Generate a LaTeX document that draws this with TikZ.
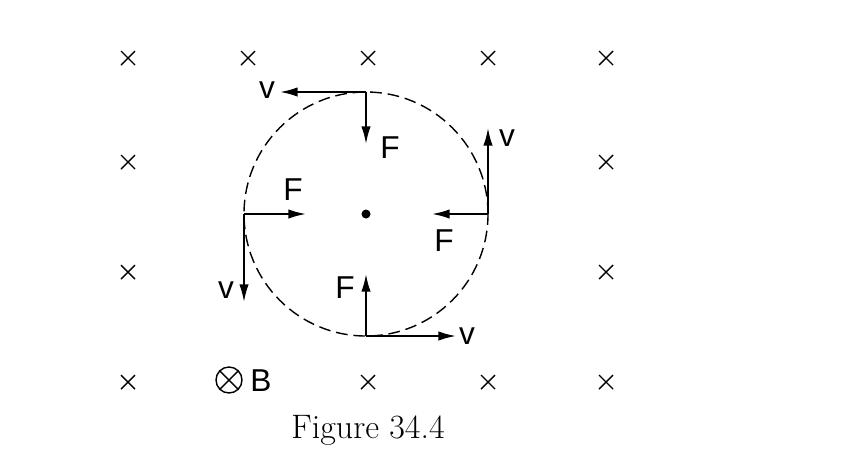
\documentclass[tikz,border=0pt]{standalone}
\usepackage{fontspec}
\newfontfamily\lab{Liberation Sans}
\usetikzlibrary{arrows.meta}
\begin{document}
\begin{tikzpicture}[x=0.03cm,y=-0.03cm,
  cross/.style={line width=1.2pt},
  vec/.style={line width=1.6pt,-{Latex[length=15pt,width=8pt]}},
  lbl/.style={font=\lab\fontsize{27}{32}\selectfont,inner sep=0pt}]
\useasboundingbox (0,0) rectangle (850,465);
\foreach \x/\y in {128/58,248/58,368/58,488/58,606/58,128/162,606/162,128/272,606/272,128/382,368/382,488/382,606/382}
  \draw[cross] (\x-7,\y-7) -- (\x+7,\y+7) (\x-7,\y+7) -- (\x+7,\y-7);
\node[circle,draw,line width=1.2pt,minimum size=244*0.03cm,inner sep=0pt,dash pattern=on 10pt off 5pt] (c) at (366,214) {};
\fill (366,214) circle (4.5);
\coordinate (T) at (366,92); \coordinate (R) at (488,214);
\coordinate (L) at (244,214); \coordinate (B) at (366,336);
\coordinate (Tv) at (280,92); \coordinate (TF) at (366,144);
\coordinate (Rv) at (488,128); \coordinate (RF) at (432,214);
\coordinate (LF) at (306,214); \coordinate (Lv) at (244,302);
\coordinate (Bv) at (456,336); \coordinate (BF) at (366,274);
\draw[vec] (T) -- (Tv); \draw[vec] (T) -- (TF);
\draw[vec] (R) -- (Rv); \draw[vec] (R) -- (RF);
\draw[vec] (L) -- (LF); \draw[vec] (L) -- (Lv);
\draw[vec] (B) -- (Bv); \draw[vec] (B) -- (BF);
\node[lbl] (a1) at (267,90) {v};
\node[lbl] (a2) at (390,148) {F};
\node[lbl] (a3) at (507,138) {v};
\node[lbl] (a4) at (444,241) {F};
\node[lbl] (a5) at (293,190) {F};
\node[lbl] (a6) at (226,290) {v};
\node[lbl] (a7) at (467,336) {v};
\node[lbl] (a8) at (345,288) {F};
\node[circle,draw,line width=1.2pt,minimum size=26*0.03cm,inner sep=0pt] (bs) at (229,380) {};
\draw[line width=1.2pt] (bs.45) -- (bs.225) (bs.135) -- (bs.315);
\node[lbl] (bl) at (261,381) {B};
\node[font=\fontsize{29}{34}\selectfont,inner sep=0pt] (cap) at (368,430) {Figure 34.4};
\end{tikzpicture}
\end{document}
